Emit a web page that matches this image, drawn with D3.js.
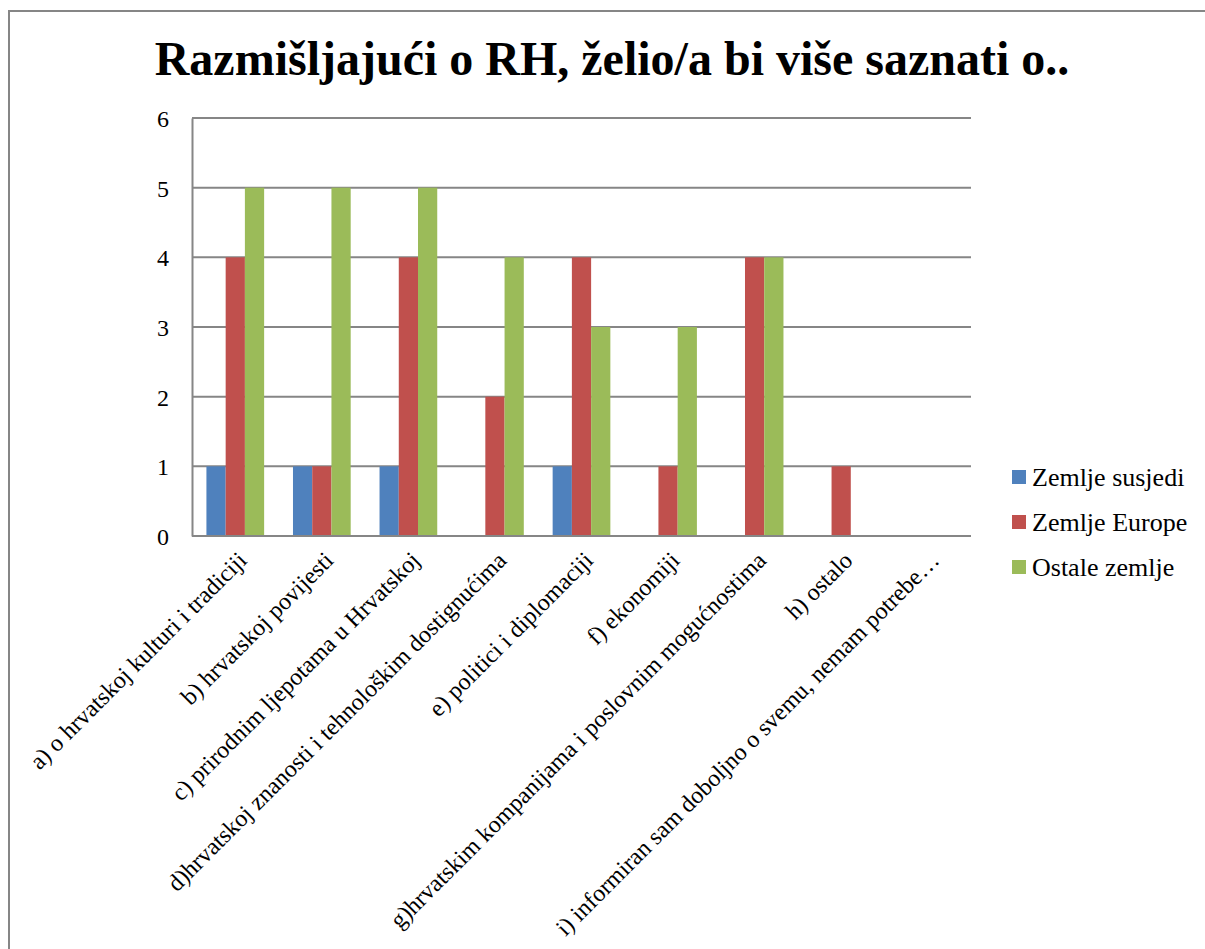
<!DOCTYPE html>
<meta charset="utf-8">
<style>
body { margin: 0; background: #fff; }
text { font-family: "Liberation Serif", "DejaVu Serif", serif; fill: #000; }
.title { font-size: 48px; font-weight: bold; }
.axis--y text { font-size: 24px; }
.axis--x text { font-size: 24px; }
.legend text { font-size: 26px; }
</style>
<svg id="chart" width="1205" height="949"></svg>
<script src="https://d3js.org/d3.v7.min.js"></script>
<script>

var categories = [
    "a) o hrvatskoj kulturi i tradiciji",
    "b) hrvatskoj povijesti",
    "c) prirodnim ljepotama u Hrvatskoj",
    "d)hrvatskoj znanosti i tehnološkim dostignućima",
    "e) politici i diplomaciji",
    "f) ekonomiji",
    "g)hrvatskim kompanijama i poslovnim mogućnostima",
    "h) ostalo",
    "i) informiran sam doboljno o svemu, nemam potrebe…"
];
var seriesNames = ["Zemlje susjedi", "Zemlje Europe", "Ostale zemlje"];
var susjedi = [1, 1, 1, 0, 1, 0, 0, 0, 0];
var europe  = [4, 1, 4, 2, 4, 1, 4, 1, 0];
var ostale  = [5, 5, 5, 4, 3, 3, 4, 0, 0];
var yTicks = [0, 1, 2, 3, 4, 5, 6];
var colors = ["#4F81BD", "#C0504D", "#9BBB59"];

var svg = d3.select("#chart");
var margin = {top: 118, left: 192, right: 234, bottom: 413};
var width = 1205 - margin.left - margin.right,
    height = 949 - margin.top - margin.bottom;

// outer frame
svg.append("path")
    .attr("d", "M9,949V11H1205")
    .attr("fill", "none")
    .attr("stroke", "#868686")
    .attr("stroke-width", 2);

svg.append("text")
    .attr("class", "title")
    .attr("x", 612)
    .attr("y", 75)
    .attr("text-anchor", "middle")
    .text("Razmišljajući o RH, želio/a bi više saznati o..");

var g = svg.append("g").attr("transform", "translate(" + margin.left + "," + margin.top + ")");

var x0 = d3.scaleBand().domain(categories).range([0, width]).paddingInner(0).paddingOuter(0);
var x1 = d3.scaleBand().domain(seriesNames).range([0, x0.bandwidth()]).paddingInner(0).paddingOuter(0.75);
var y = d3.scaleLinear().domain([0, 6]).range([height, 0]);

// gridlines
g.selectAll(".grid")
    .data(yTicks)
    .enter().append("line")
    .attr("x1", 0).attr("x2", width)
    .attr("y1", function(d) { return y(d); })
    .attr("y2", function(d) { return y(d); })
    .attr("stroke", "#868686")
    .attr("stroke-width", 2);

var data = [susjedi, europe, ostale];
var rows = categories.map(function(c, i) {
    return seriesNames.map(function(s, j) { return {cat: c, series: s, value: data[j][i], idx: j}; });
});

g.selectAll(".cat")
    .data(rows)
    .enter().append("g")
    .attr("transform", function(d) { return "translate(" + x0(d[0].cat) + ",0)"; })
    .selectAll("rect")
    .data(function(d) { return d; })
    .enter().append("rect")
    .attr("x", function(d) { return x1(d.series); })
    .attr("width", x1.bandwidth())
    .attr("y", function(d) { return y(d.value); })
    .attr("height", function(d) { return height - y(d.value); })
    .attr("fill", function(d) { return colors[d.idx]; });

// y axis
var yAxis = g.append("g")
    .attr("class", "axis axis--y")
    .call(d3.axisLeft(y).tickValues(yTicks).tickSize(0).tickPadding(23).tickFormat(d3.format("d")));
yAxis.attr("font-family", null).attr("font-size", null);
yAxis.select(".domain").attr("stroke", "#868686").attr("stroke-width", 2);
yAxis.selectAll("text").attr("dy", "0.35em").attr("fill", "#000");

// x axis baseline
g.append("line")
    .attr("x1", 0).attr("x2", width)
    .attr("y1", height).attr("y2", height)
    .attr("stroke", "#868686").attr("stroke-width", 2);

var xAxis = g.append("g")
    .attr("class", "axis axis--x")
    .attr("transform", "translate(0," + height + ")");
xAxis.selectAll("text")
    .data(categories)
    .enter().append("text")
    .attr("text-anchor", "end")
    .attr("transform", function(d) {
        return "translate(" + (x0(d) + x0.bandwidth() / 2 + 1) + ",14) rotate(-45)";
    })
    .attr("dy", "0.7em")
    .text(function(d) { return d; });

// legend
var legend = svg.append("g").attr("class", "legend")
    .attr("transform", "translate(1012,470)");
var items = legend.selectAll("g")
    .data(seriesNames)
    .enter().append("g")
    .attr("transform", function(d, i) { return "translate(0," + (i * 45) + ")"; });
items.append("rect")
    .attr("width", 14).attr("height", 14)
    .attr("fill", function(d, i) { return colors[i]; });
items.append("text")
    .attr("x", 20)
    .attr("y", 7)
    .attr("dy", "0.35em")
    .text(function(d) { return d; });

</script>
